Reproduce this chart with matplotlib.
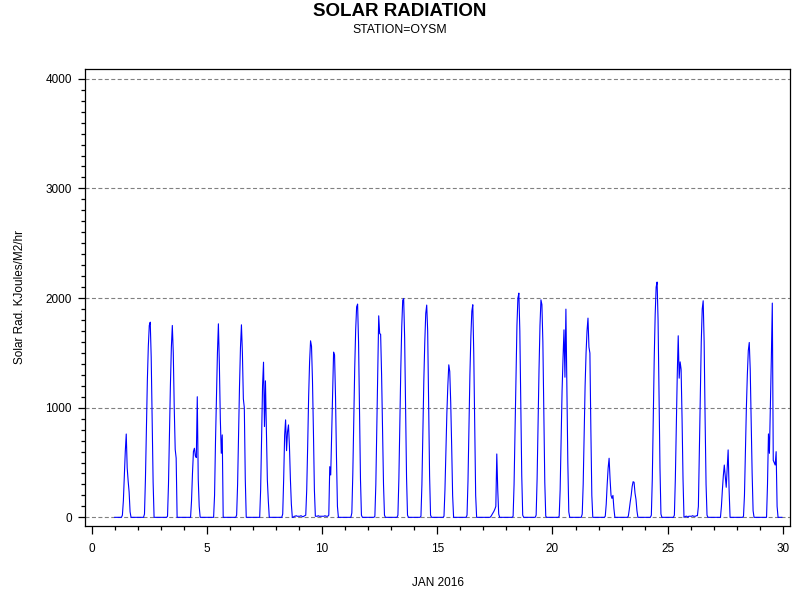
import matplotlib
matplotlib.use('Agg')
import matplotlib.pyplot as plt
from matplotlib.ticker import MultipleLocator
import numpy as np

plt.rcParams['font.family'] = ['Liberation Sans', 'DejaVu Sans']

# hourly solar radiation (KJoules/M2/hr), hours 0..23 for each day of Jan 2016
jan01 = [0, 0, 0, 0, 0, 0, 0, 0, 20, 150, 380, 600, 760, 450, 330, 230, 50, 0, 0, 0, 0, 0, 0, 0]
jan02 = [0, 0, 0, 0, 0, 0, 0, 30, 350, 800, 1250, 1560, 1750, 1780, 1460, 890, 320, 0, 0, 0, 0, 0, 0, 0]
jan03 = [0, 0, 0, 0, 0, 0, 0, 10, 300, 750, 1200, 1550, 1750, 1500, 1000, 620, 540, 0, 0, 0, 0, 0, 0, 0]
jan04 = [0, 0, 0, 0, 0, 0, 0, 0, 150, 400, 600, 630, 560, 545, 1100, 350, 100, 0, 0, 0, 0, 0, 0, 0]
jan05 = [0, 0, 0, 0, 0, 0, 0, 0, 200, 700, 1100, 1500, 1765, 1400, 900, 584, 752, 0, 0, 0, 0, 0, 0, 0]
jan06 = [0, 0, 0, 0, 0, 0, 0, 20, 300, 750, 1200, 1550, 1756, 1500, 1080, 1000, 350, 0, 0, 0, 0, 0, 0, 0]
jan07 = [0, 0, 0, 0, 0, 0, 0, 0, 250, 700, 1200, 1415, 828, 1245, 800, 341, 150, 0, 0, 0, 0, 0, 0, 0]
jan08 = [0, 0, 0, 0, 0, 0, 0, 30, 350, 750, 889, 608, 780, 843, 650, 350, 120, 0, 0, 10, 10, 15, 10, 10]
jan09 = [10, 10, 15, 10, 5, 10, 15, 20, 250, 650, 1100, 1420, 1610, 1560, 1250, 780, 250, 10, 10, 10, 15, 10, 10, 10]
jan10 = [10, 10, 10, 15, 10, 10, 10, 20, 462, 386, 750, 1130, 1507, 1480, 1100, 550, 100, 0, 0, 0, 0, 0, 0, 0]
jan11 = [0, 0, 0, 0, 0, 0, 0, 40, 390, 880, 1360, 1710, 1920, 1945, 1600, 970, 350, 20, 0, 0, 0, 0, 0, 0]
jan12 = [0, 0, 0, 0, 0, 0, 0, 10, 300, 800, 1300, 1838, 1675, 1670, 1300, 800, 300, 20, 0, 0, 0, 0, 0, 0]
jan13 = [0, 0, 0, 0, 0, 0, 0, 20, 350, 850, 1350, 1740, 1980, 1994, 1640, 1000, 360, 20, 0, 0, 0, 0, 0, 0]
jan14 = [0, 0, 0, 0, 0, 0, 0, 10, 300, 760, 1250, 1600, 1860, 1936, 1700, 1050, 380, 20, 0, 0, 0, 0, 0, 0]
jan15 = [0, 0, 0, 0, 0, 0, 0, 10, 250, 600, 950, 1200, 1391, 1330, 1050, 650, 200, 0, 0, 0, 0, 0, 0, 0]
jan16 = [0, 0, 0, 0, 0, 0, 0, 20, 330, 800, 1300, 1650, 1880, 1939, 1500, 850, 200, 0, 0, 0, 0, 0, 0, 0]
jan17 = [0, 0, 0, 0, 0, 0, 0, 0, 10, 25, 40, 55, 75, 100, 578, 250, 30, 0, 0, 0, 0, 0, 0, 0]
jan18 = [0, 0, 0, 0, 0, 0, 0, 10, 300, 800, 1350, 1750, 2000, 2045, 1700, 1050, 380, 20, 0, 0, 0, 0, 0, 0]
jan19 = [0, 0, 0, 0, 0, 0, 0, 20, 350, 850, 1350, 1750, 1984, 1940, 1600, 950, 320, 10, 0, 0, 0, 0, 0, 0]
jan20 = [0, 0, 0, 0, 0, 0, 0, 10, 250, 700, 1150, 1450, 1710, 1278, 1899, 1200, 500, 50, 0, 0, 0, 0, 0, 0]
jan21 = [0, 0, 0, 0, 0, 0, 0, 30, 300, 750, 1200, 1500, 1700, 1817, 1553, 1498, 800, 200, 0, 0, 0, 0, 0, 0]
jan22 = [0, 0, 0, 0, 0, 0, 0, 10, 120, 300, 450, 539, 350, 200, 173, 200, 80, 0, 0, 0, 0, 0, 0, 0]
jan23 = [0, 0, 0, 0, 0, 0, 0, 10, 70, 140, 200, 280, 325, 320, 220, 164, 60, 0, 0, 0, 0, 0, 0, 0]
jan24 = [0, 0, 0, 0, 0, 0, 0, 20, 350, 900, 1450, 1850, 2100, 2146, 1800, 1150, 450, 30, 0, 0, 0, 0, 0, 0]
jan25 = [0, 0, 0, 0, 0, 0, 0, 20, 350, 850, 1300, 1656, 1269, 1418, 1350, 900, 350, 0, 5, 10, 10, 0, 10, 10]
jan26 = [10, 10, 15, 10, 10, 10, 15, 15, 100, 600, 1150, 1600, 1900, 1975, 1600, 900, 300, 20, 0, 0, 0, 0, 0, 0]
jan27 = [0, 0, 0, 0, 0, 0, 0, 0, 100, 250, 380, 477, 370, 274, 450, 615, 250, 0, 0, 0, 0, 0, 0, 0]
jan28 = [0, 0, 0, 0, 0, 0, 0, 10, 200, 600, 1000, 1300, 1520, 1595, 1350, 900, 400, 60, 0, 0, 0, 0, 0, 0]
jan29 = [0, 0, 0, 0, 0, 0, 0, 0, 300, 761, 584, 1000, 1450, 1954, 520, 499, 477, 599, 100, 0, 0, 0, 0, 0]

days = [jan01, jan02, jan03, jan04, jan05, jan06, jan07, jan08, jan09, jan10,
        jan11, jan12, jan13, jan14, jan15, jan16, jan17, jan18, jan19, jan20,
        jan21, jan22, jan23, jan24, jan25, jan26, jan27, jan28, jan29]

# day-of-month axis with hourly fraction
t = []
rad = []
for i, vals in enumerate(days):
    day = i + 1
    for h, v in enumerate(vals):
        t.append(day + h / 24.0)
        rad.append(v)
t = np.array(t)
rad = np.array(rad)

fig = plt.figure(figsize=(8, 6), dpi=100)
ax = fig.add_axes([85 / 800, 74 / 600, 705 / 800, 457 / 600])

for yv in [0, 1000, 2000, 3000, 4000]:
    ax.axhline(yv, color='#808080', lw=0.8, linestyle=(0, (3.6, 2.2)), zorder=1)

ax.plot(t, rad, color='#0000ff', lw=0.8, zorder=3)

ax.set_xlim(-0.29, 30.31)
ax.set_ylim(-79, 4089)

ax.xaxis.set_major_locator(MultipleLocator(5))
ax.xaxis.set_minor_locator(MultipleLocator(1))
ax.yaxis.set_major_locator(MultipleLocator(1000))
ax.yaxis.set_minor_locator(MultipleLocator(100))

ax.tick_params(axis='x', which='major', direction='out', length=6, width=0.9, pad=6, labelsize=8.5)
ax.tick_params(axis='x', which='minor', direction='out', length=3, width=0.9)
ax.tick_params(axis='y', which='major', direction='out', length=5, width=0.9, pad=4.5, labelsize=8.5)
ax.tick_params(axis='y', which='minor', direction='out', length=3, width=0.9)

for s in ax.spines.values():
    s.set_linewidth(0.9)

ax.set_xlabel('JAN 2016', fontsize=8.5, labelpad=16)
ax.set_ylabel('Solar Rad. KJoules/M2/hr', fontsize=8.5, labelpad=14)

fig.text(0.5, 1 - 11 / 600, 'SOLAR RADIATION', ha='center', va='center',
         fontsize=13.5, fontweight='bold')
fig.text(0.5, 1 - 30 / 600, 'STATION=OYSM', ha='center', va='center', fontsize=8.8)

fig.savefig('out.png', dpi=100)
